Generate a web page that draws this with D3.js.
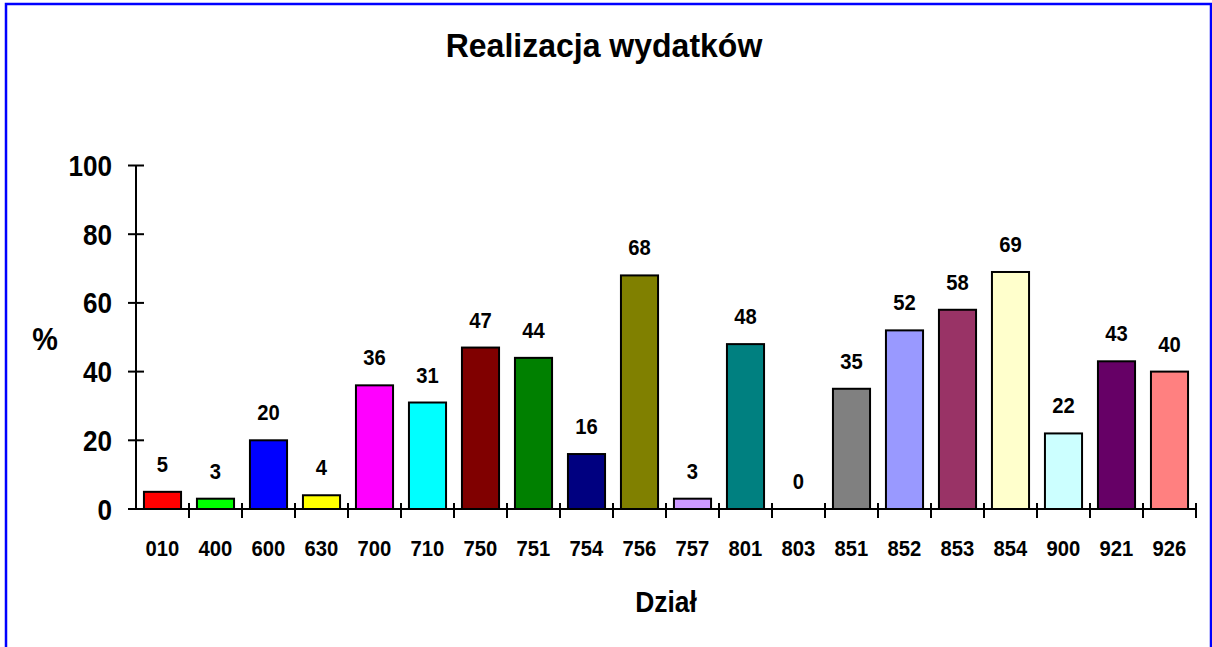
<!DOCTYPE html>
<html>
<head>
<meta charset="utf-8">
<script src="https://cdn.jsdelivr.net/npm/d3@7/dist/d3.min.js"></script>
<style>
  html, body { margin: 0; padding: 0; background: #fff; }
  svg { display: block; }
  text { font-family: "Liberation Sans", Arial, sans-serif; font-weight: bold; fill: #000; }
</style>
</head>
<body>
<svg id="chart" width="1212" height="647"></svg>
<script>
// dane
const categories = ['010', '400', '600', '630', '700', '710', '750', '751', '754', '756',
                    '757', '801', '803', '851', '852', '853', '854', '900', '921', '926'];
const values = [5, 3, 20, 4, 36, 31, 47, 44, 16, 68, 3, 48, 0, 35, 52, 58, 69, 22, 43, 40];
const colors = ['#FF0000', '#00FF00', '#0000FF', '#FFFF00', '#FF00FF', '#00FFFF', '#800000',
                '#008000', '#000080', '#808000', '#CC99FF', '#008080', '#FF8080', '#808080',
                '#9999FF', '#993366', '#FFFFCC', '#CCFFFF', '#660066', '#FF8080'];
const yTicks = [0, 20, 40, 60, 80, 100];
const titleText = 'Realizacja wydatków';
const xTitle = 'Dział';
const yTitle = '%';

const svg = d3.select('#chart');
const width = 1212;

// ramka
svg.append('rect')
    .attr('x', 6)
    .attr('y', 4)
    .attr('width', 1205)
    .attr('height', 700)
    .attr('fill', '#fff')
    .attr('stroke', '#0000FF')
    .attr('stroke-width', 2.5);

const x = d3.scaleBand()
    .domain(categories)
    .range([136, 1196])
    .paddingInner(0.3)
    .paddingOuter(0.15);

const y = d3.scaleLinear()
    .domain([0, 100])
    .range([509, 165.5]);

// tekst lekko zwężony, jak w oryginale
function label(g, px, py, txt, size, anchor, sx) {
    const t = g.append('g')
        .attr('transform', `translate(${px},${py}) scale(${sx},1)`)
        .append('text')
        .attr('text-anchor', anchor)
        .style('font-size', size + 'px')
        .text(txt);
    return t;
}

// słupki
svg.append('g')
    .selectAll('rect')
    .data(values)
    .join('rect')
    .attr('x', (d, i) => x(categories[i]))
    .attr('y', d => y(d))
    .attr('width', x.bandwidth())
    .attr('height', d => y(0) - y(d))
    .attr('fill', (d, i) => colors[i])
    .attr('stroke', '#000')
    .attr('stroke-width', d => d > 0 ? 2 : 0);

// oś Y
const yAxis = svg.append('g');
yAxis.append('line')
    .attr('x1', 136).attr('x2', 136)
    .attr('y1', y(0)).attr('y2', y(100))
    .attr('stroke', '#000').attr('stroke-width', 2);
yTicks.forEach(t => {
    yAxis.append('line')
        .attr('x1', 128).attr('x2', 144)
        .attr('y1', y(t)).attr('y2', y(t))
        .attr('stroke', '#000').attr('stroke-width', 2);
    label(yAxis, 112, y(t) + 10.5, t, 29, 'end', 0.9);
});

// oś X
const xAxis = svg.append('g');
xAxis.append('line')
    .attr('x1', 136).attr('x2', 1196)
    .attr('y1', y(0)).attr('y2', y(0))
    .attr('stroke', '#000').attr('stroke-width', 2);
const step = x.step();
d3.range(categories.length + 1).forEach(i => {
    const tx = 136 + i * step;
    if (i === 0) return;
    xAxis.append('line')
        .attr('x1', tx).attr('x2', tx)
        .attr('y1', y(0) - 6).attr('y2', y(0) + 9)
        .attr('stroke', '#000').attr('stroke-width', 2);
});
categories.forEach(c => {
    label(xAxis, x(c) + x.bandwidth() / 2, 556, c, 22, 'middle', 0.92);
});

// etykiety wartości
values.forEach((v, i) => {
    label(svg, x(categories[i]) + x.bandwidth() / 2, y(v) - 20, v, 22, 'middle', 0.92);
});

// tytuły
label(svg, 604, 57, titleText, 33, 'middle', 0.97);
label(svg, 666, 612, xTitle, 30, 'middle', 0.88);
label(svg, 45, 350, yTitle, 32, 'middle', 0.9);
</script>
</body>
</html>
